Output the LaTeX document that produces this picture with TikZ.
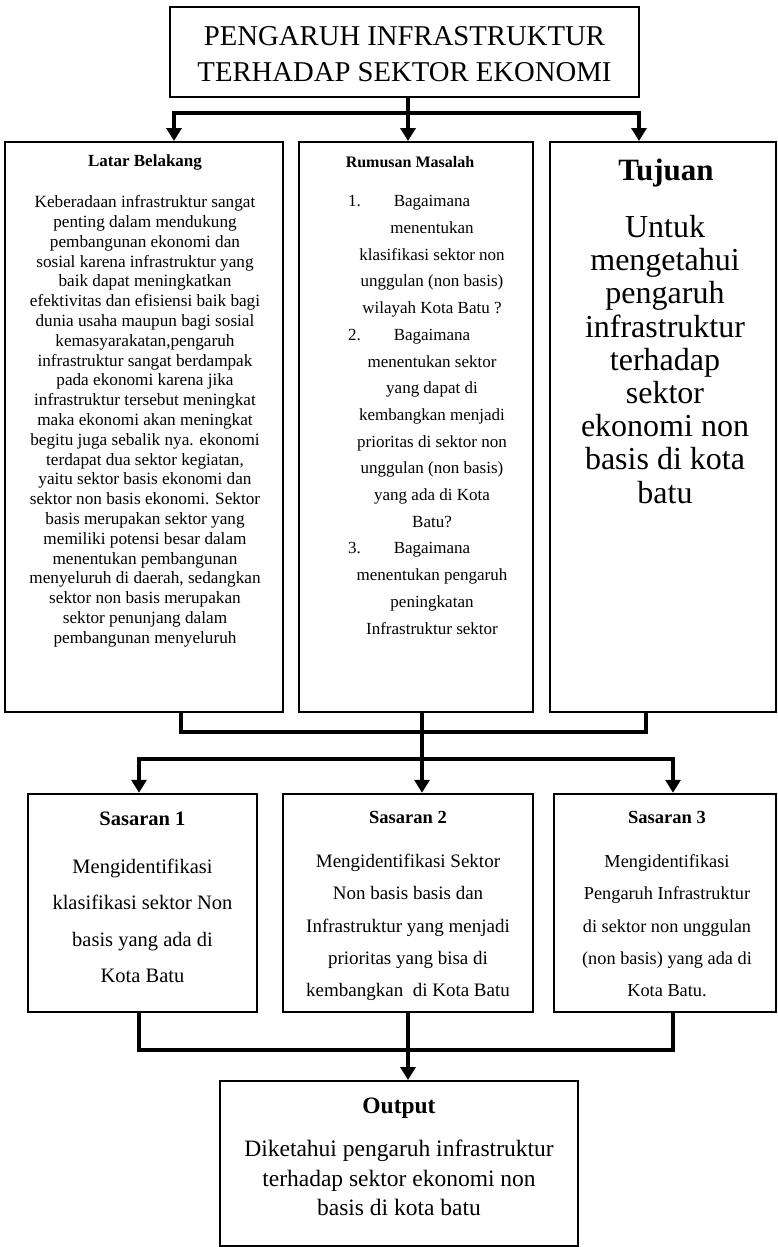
\documentclass[tikz,border=0pt]{standalone}
\usepackage{fontspec}
\setmainfont{Liberation Serif}
\usetikzlibrary{arrows.meta}
\tikzset{
  box/.style={draw=black, line width=2pt, rectangle, inner sep=0pt},
  sbox/.style={draw=black, line width=2.5pt, rectangle, inner sep=0pt},
  txt/.style={inner sep=0pt, align=center},
  conn/.style={draw=black, line width=4pt},
  >={Triangle[length=13pt,width=15pt]}
}
\begin{document}
\begin{tikzpicture}[x=1pt,y=-1pt]
\useasboundingbox[fill=white] (0,0) rectangle (778,1247);

% ---------- boxes ----------
\node[box, minimum width=469pt, minimum height=90pt] (title) at (404.5,52) {};
\node[box, minimum width=278pt, minimum height=570pt] (lb) at (144,427) {};
\node[box, minimum width=234pt, minimum height=570pt] (rm) at (416,427) {};
\node[box, minimum width=226pt, minimum height=570pt] (tj) at (663,427) {};
\node[sbox, minimum width=229pt, minimum height=218pt] (s1) at (142.5,903) {};
\node[sbox, minimum width=250pt, minimum height=218pt] (s2) at (408,903) {};
\node[sbox, minimum width=222pt, minimum height=218pt] (s3) at (665,903) {};
\node[box, minimum width=358pt, minimum height=165pt] (out) at (399,1163.5) {};

% ---------- texts ----------
\node[txt, anchor=north, font=\fontsize{28.7}{36}\selectfont] (titletxt) at (404.5,25.8)
  {PENGARUH INFRASTRUKTUR\\TERHADAP SEKTOR EKONOMI};

\node[txt, anchor=base, font=\fontsize{17}{20}\selectfont\bfseries] (lbh) at (145,166.7) {Latar Belakang};
\node[txt, anchor=north, font=\fontsize{17.2}{19.8}\selectfont] (lbb) at (145,195.3)
  {Keberadaan infrastruktur sangat\\
   penting dalam mendukung\\
   pembangunan ekonomi dan\\
   sosial karena infrastruktur yang\\
   baik dapat meningkatkan\\
   efektivitas dan efisiensi baik bagi\\
   dunia usaha maupun bagi sosial\\
   kemasyarakatan,pengaruh\\
   infrastruktur sangat berdampak\\
   pada ekonomi karena jika\\
   infrastruktur tersebut meningkat\\
   maka ekonomi akan meningkat\\
   begitu juga sebalik nya. ekonomi\\
   terdapat dua sektor kegiatan,\\
   yaitu sektor basis ekonomi dan\\
   sektor non basis ekonomi. Sektor\\
   basis merupakan sektor yang\\
   memiliki potensi besar dalam\\
   menentukan pembangunan\\
   menyeluruh di daerah, sedangkan\\
   sektor non basis merupakan\\
   sektor penunjang dalam\\
   pembangunan menyeluruh};

\node[txt, anchor=base, font=\fontsize{16}{19}\selectfont\bfseries] (rmh) at (410,167) {Rumusan Masalah};
\node[txt, anchor=north, font=\fontsize{17}{26.7}\selectfont] (rmb) at (432,195.4)
  {\llap{1.\hspace{33pt}}Bagaimana\\
   menentukan\\
   klasifikasi sektor non\\
   unggulan (non basis)\\
   wilayah Kota Batu ?\\
   \llap{2.\hspace{33pt}}Bagaimana\\
   menentukan sektor\\
   yang dapat di\\
   kembangkan menjadi\\
   prioritas di sektor non\\
   unggulan (non basis)\\
   yang ada di Kota\\
   Batu?\\
   \llap{3.\hspace{33pt}}Bagaimana\\
   menentukan pengaruh\\
   peningkatan\\
   Infrastruktur sektor};

\node[txt, anchor=base, font=\fontsize{31}{34}\selectfont\bfseries] (tjh) at (666,180) {Tujuan};
\node[txt, anchor=north, font=\fontsize{32}{33.2}\selectfont] (tjb) at (665,215)
  {Untuk\\ mengetahui\\ pengaruh\\ infrastruktur\\ terhadap\\ sektor\\ ekonomi non\\ basis di kota\\ batu};

\node[txt, anchor=base, font=\fontsize{20.5}{24}\selectfont\bfseries] (s1h) at (142.5,825) {Sasaran 1};
\node[txt, anchor=north, font=\fontsize{20.5}{36.3}\selectfont] (s1b) at (142.5,859)
  {Mengidentifikasi\\ klasifikasi sektor Non\\ basis yang ada di\\ Kota Batu};

\node[txt, anchor=base, font=\fontsize{18.5}{22}\selectfont\bfseries] (s2h) at (408,823) {Sasaran 2};
\node[txt, anchor=north, font=\fontsize{19}{32.3}\selectfont] (s2b) at (408,854)
  {Mengidentifikasi Sektor\\ Non basis basis dan\\ Infrastruktur yang menjadi\\ prioritas yang bisa di\\ kembangkan~ di Kota Batu};

\node[txt, anchor=base, font=\fontsize{18.5}{22}\selectfont\bfseries] (s3h) at (667,823) {Sasaran 3};
\node[txt, anchor=north, font=\fontsize{18.3}{32.3}\selectfont] (s3b) at (667,854.5)
  {Mengidentifikasi\\ Pengaruh Infrastruktur\\ di sektor non unggulan\\ (non basis) yang ada di\\ Kota Batu.};

\node[txt, anchor=base, font=\fontsize{23.5}{27}\selectfont\bfseries] (outh) at (399,1113) {Output};
\node[txt, anchor=north, font=\fontsize{23.5}{29.5}\selectfont] (outb) at (399,1140)
  {Diketahui pengaruh infrastruktur\\ terhadap sektor ekonomi non\\ basis di kota batu};

% ---------- connector coordinates ----------
\coordinate (t1) at (408,113);
\coordinate (ta1) at (174,113);
\coordinate (ta3) at (639,113);
\coordinate (m1) at (422,732);
\coordinate (mb1) at (181,732);
\coordinate (mb3) at (646,732);
\coordinate (m2) at (422,759);
\coordinate (sa1) at (139,759);
\coordinate (sa3) at (673,759);
\coordinate (b2) at (408,1050);
\coordinate (bb1) at (139,1050);
\coordinate (bb3) at (673,1050);

% ---------- connectors ----------
\draw[conn] (t1 |- title.south) -- (t1);
\draw[conn,<->] (ta1 |- lb.north) -- (ta1) -- (ta3) -- (ta3 |- tj.north);
\draw[conn,->] (t1) -- (t1 |- rm.north);

\draw[conn] (mb1 |- lb.south) -- (mb1) -- (mb3) -- (mb3 |- tj.south);
\draw[conn] (m1 |- rm.south) -- (m2);
\draw[conn,<->] (sa1 |- s1.north) -- (sa1) -- (sa3) -- (sa3 |- s3.north);
\draw[conn,->] (m2) -- (m2 |- s2.north);

\draw[conn] (bb1 |- s1.south) -- (bb1) -- (bb3) -- (bb3 |- s3.south);
\draw[conn] (s2.south) -- (b2);
\draw[conn,->] (b2) -- (b2 |- out.north);
\end{tikzpicture}
\end{document}
